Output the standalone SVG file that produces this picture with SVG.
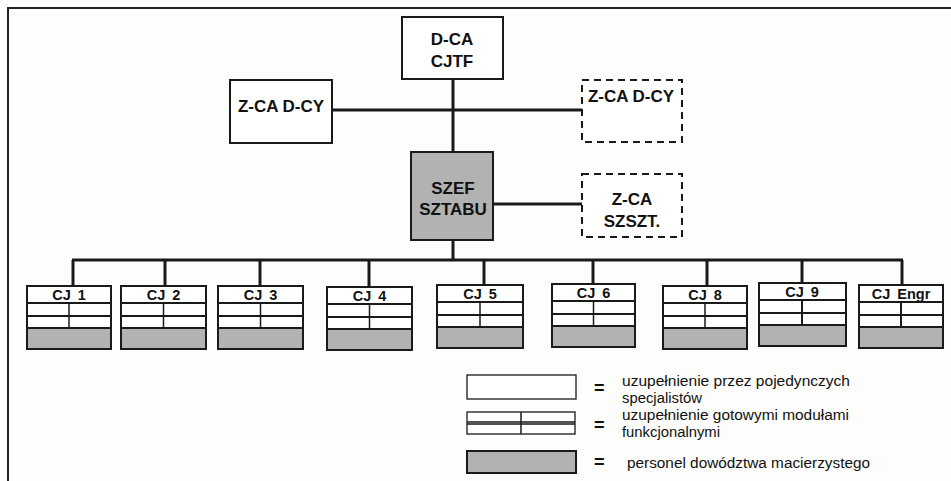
<svg xmlns="http://www.w3.org/2000/svg" width="951" height="481" viewBox="0 0 951 481">
<style>
.bg{fill:#fdfdfb}
.frame{fill:none;stroke:#222;stroke-width:2}
.box{fill:#fff;stroke:#1a1a1a;stroke-width:2}
.dbox{fill:#fff;stroke:#1a1a1a;stroke-width:2;stroke-dasharray:7,5}
.grey{fill:#b2b2b2;stroke:#1a1a1a;stroke-width:2}
.con{fill:none;stroke:#1a1a1a;stroke-width:3}
.sep{stroke:#1a1a1a;stroke-width:2}
.div{stroke:#1a1a1a;stroke-width:1.5}
.t{font-family:"Liberation Sans",Arial,sans-serif;font-weight:bold;font-size:17px;fill:#111;text-anchor:middle}
.ts{font-family:"Liberation Sans",Arial,sans-serif;font-weight:bold;font-size:17px;fill:#111;text-anchor:middle}
.cj{font-family:"Liberation Sans",Arial,sans-serif;font-weight:bold;font-size:14.5px;fill:#111;text-anchor:middle;word-spacing:3px}
.lg{font-family:"Liberation Sans",Arial,sans-serif;font-size:14px;fill:#111}
.eq{font-family:"Liberation Sans",Arial,sans-serif;font-size:18px;fill:#111;font-weight:bold}
.thin{fill:#fff;stroke:#1a1a1a;stroke-width:1.3}
</style>
<rect class="bg" x="0" y="0" width="951" height="481"/>
<polyline class="frame" points="8,481 8,8 951,8"/>

<g id="connectors">
<line class="con" x1="453" y1="79" x2="453" y2="152"/>
<line class="con" x1="332" y1="110" x2="582" y2="110"/>
<line class="con" x1="493" y1="204" x2="582" y2="204"/>
<line class="con" x1="453" y1="240" x2="453" y2="260"/>
<line class="con" x1="72" y1="260" x2="903" y2="260"/>
<line class="con" x1="73" y1="260" x2="73" y2="286"/>
<line class="con" x1="165" y1="260" x2="165" y2="286"/>
<line class="con" x1="260" y1="260" x2="260" y2="286"/>
<line class="con" x1="369" y1="260" x2="369" y2="287"/>
<line class="con" x1="484" y1="260" x2="484" y2="285"/>
<line class="con" x1="593" y1="260" x2="593" y2="284"/>
<line class="con" x1="707" y1="260" x2="707" y2="286"/>
<line class="con" x1="802" y1="260" x2="802" y2="283"/>
<line class="con" x1="902" y1="260" x2="902" y2="285"/>
</g>

<g id="dca">
<rect class="box" x="402" y="17" width="101" height="62"/>
<text class="t" x="452" y="45">D-CA</text>
<text class="t" x="452" y="67">CJTF</text>
</g>
<g id="zca-left">
<rect class="box" x="230" y="80" width="102" height="63"/>
<text class="t" x="281" y="112">Z-CA D-CY</text>
</g>
<g id="zca-right">
<rect class="dbox" x="582" y="80" width="100" height="62"/>
<text class="t" x="631" y="102">Z-CA D-CY</text>
</g>
<g id="szef">
<rect class="grey" x="411" y="152" width="82" height="88"/>
<text class="ts" x="453" y="194">SZEF</text>
<text class="ts" x="453" y="215">SZTABU</text>
</g>
<g id="zca-szszt">
<rect class="dbox" x="582" y="174" width="100" height="63"/>
<text class="t" x="632" y="205">Z-CA</text>
<text class="t" x="632" y="227">SZSZT.</text>
</g>

<g id="cj1">
<rect class="box" x="27" y="286" width="84" height="63"/>
<rect class="grey" x="27" y="328" width="84" height="21"/>
<line class="sep" x1="27" y1="303" x2="111" y2="303"/><line class="sep" x1="27" y1="316" x2="111" y2="316"/>
<line class="div" x1="69" y1="303" x2="69" y2="328"/>
<text class="cj" x="69" y="300">CJ 1</text>
</g>
<g id="cj2">
<rect class="box" x="121" y="286" width="85" height="63"/>
<rect class="grey" x="121" y="328" width="85" height="21"/>
<line class="sep" x1="121" y1="303" x2="206" y2="303"/><line class="sep" x1="121" y1="316" x2="206" y2="316"/>
<line class="div" x1="163.5" y1="303" x2="163.5" y2="328"/>
<text class="cj" x="163.5" y="300">CJ 2</text>
</g>
<g id="cj3">
<rect class="box" x="218" y="286" width="85" height="63"/>
<rect class="grey" x="218" y="328" width="85" height="21"/>
<line class="sep" x1="218" y1="303" x2="303" y2="303"/><line class="sep" x1="218" y1="316" x2="303" y2="316"/>
<line class="div" x1="260.5" y1="303" x2="260.5" y2="328"/>
<text class="cj" x="260.5" y="300">CJ 3</text>
</g>
<g id="cj4">
<rect class="box" x="327" y="287" width="85" height="63"/>
<rect class="grey" x="327" y="329" width="85" height="21"/>
<line class="sep" x1="327" y1="304" x2="412" y2="304"/><line class="sep" x1="327" y1="317" x2="412" y2="317"/>
<line class="div" x1="369.5" y1="304" x2="369.5" y2="329"/>
<text class="cj" x="369.5" y="301">CJ 4</text>
</g>
<g id="cj5">
<rect class="box" x="437" y="285" width="86" height="63"/>
<rect class="grey" x="437" y="327" width="86" height="21"/>
<line class="sep" x1="437" y1="302" x2="523" y2="302"/><line class="sep" x1="437" y1="315" x2="523" y2="315"/>
<line class="div" x1="480" y1="302" x2="480" y2="327"/>
<text class="cj" x="480" y="299">CJ 5</text>
</g>
<g id="cj6">
<rect class="box" x="552" y="284" width="83" height="63"/>
<rect class="grey" x="552" y="326" width="83" height="21"/>
<line class="sep" x1="552" y1="301" x2="635" y2="301"/><line class="sep" x1="552" y1="314" x2="635" y2="314"/>
<line class="div" x1="593.5" y1="301" x2="593.5" y2="326"/>
<text class="cj" x="593.5" y="298">CJ 6</text>
</g>
<g id="cj8">
<rect class="box" x="663" y="286" width="84" height="63"/>
<rect class="grey" x="663" y="328" width="84" height="21"/>
<line class="sep" x1="663" y1="303" x2="747" y2="303"/><line class="sep" x1="663" y1="316" x2="747" y2="316"/>
<line class="div" x1="705" y1="303" x2="705" y2="328"/>
<text class="cj" x="705" y="300">CJ 8</text>
</g>
<g id="cj9">
<rect class="box" x="759" y="283" width="87" height="63"/>
<rect class="grey" x="759" y="325" width="87" height="21"/>
<line class="sep" x1="759" y1="300" x2="846" y2="300"/><line class="sep" x1="759" y1="313" x2="846" y2="313"/>
<line class="sep" x1="802" y1="300" x2="802" y2="325"/>
<text class="cj" x="802" y="297">CJ 9</text>
</g>
<g id="cjengr">
<rect class="box" x="859" y="285" width="84" height="63"/>
<rect class="grey" x="859" y="327" width="84" height="21"/>
<line class="sep" x1="859" y1="302" x2="943" y2="302"/><line class="sep" x1="859" y1="315" x2="943" y2="315"/>
<line class="sep" x1="901" y1="302" x2="901" y2="327"/>
<text class="cj" x="901" y="299">CJ Engr</text>
</g>

<g id="legend">
<rect class="thin" x="467" y="375" width="109" height="24"/>
<text class="eq" x="594" y="394">=</text>
<text class="lg" x="622" y="386" textLength="228" lengthAdjust="spacingAndGlyphs">uzupełnienie przez pojedynczych</text>
<text class="lg" x="622" y="403" textLength="80" lengthAdjust="spacingAndGlyphs">specjalistów</text>
<rect class="thin" x="467" y="412" width="108" height="22"/>
<line class="div" x1="467" y1="422" x2="575" y2="422"/>
<line class="div" x1="467" y1="424" x2="575" y2="424"/>
<line class="div" x1="521" y1="412" x2="521" y2="434"/>
<text class="eq" x="594" y="431">=</text>
<text class="lg" x="622" y="420" textLength="227" lengthAdjust="spacingAndGlyphs">uzupełnienie gotowymi modułami</text>
<text class="lg" x="622" y="437" textLength="98" lengthAdjust="spacingAndGlyphs">funkcjonalnymi</text>
<rect class="grey" x="467" y="451" width="109" height="22"/>
<text class="eq" x="594" y="468">=</text>
<text class="lg" x="627" y="468" textLength="243" lengthAdjust="spacingAndGlyphs">personel dowództwa macierzystego</text>
</g>
</svg>
